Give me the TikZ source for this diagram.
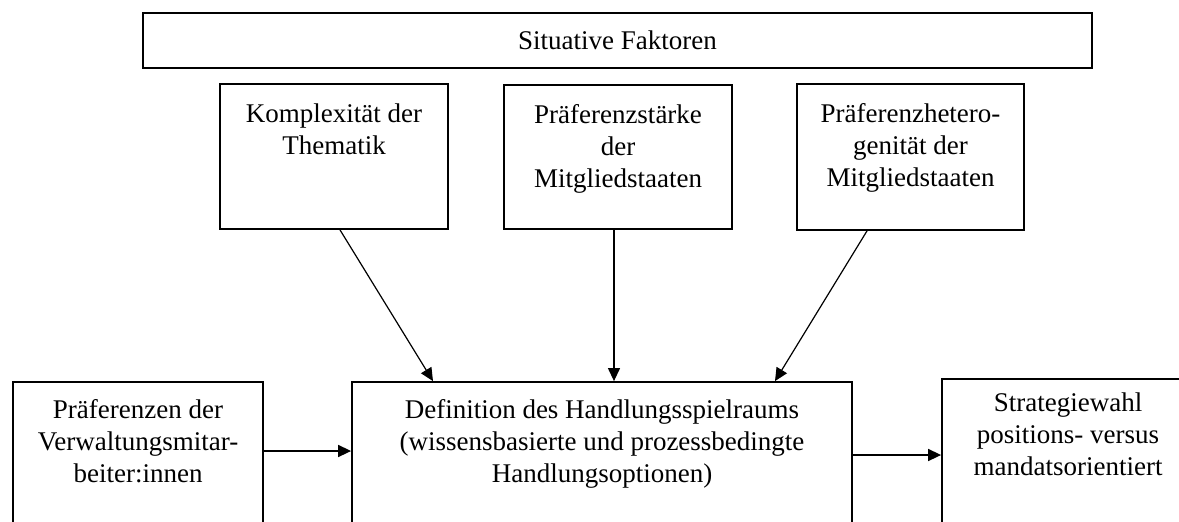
\documentclass[tikz,border=0pt]{standalone}
\usepackage{fontspec}
\setmainfont{Liberation Serif}
\usepackage{xcolor}
\usetikzlibrary{positioning,arrows.meta}

\begin{document}
\begin{tikzpicture}[x=0.5pt, y=-0.5pt,
    box/.style={draw, line width=0.9pt, rectangle, inner sep=0pt},
    txt/.style={inner sep=0pt, align=center, font=\fontsize{13.5}{16}\selectfont},
    arr/.style={-{Triangle[length=6.5pt, width=6pt]}, line width=0.6pt}]

    \useasboundingbox (0,0) rectangle (1179,521);
    \clip (0,0) rectangle (1179,521);

    % Define nodes
    \node (faktoren) [box, txt, minimum width=474.5pt, minimum height=27.5pt] at (617.5,40.5) {Situative Faktoren};

    \node (komplex) [box, minimum width=114pt, minimum height=72.5pt] at (334,156.5) {};
    \node (komplexT) [txt, below=10pt of komplex.north] {Komplexit\"at der\\Thematik};

    \node (staerke) [box, minimum width=114pt, minimum height=72pt] at (618,157) {};
    \node (staerkeT) [txt, below=10pt of staerke.north] {Pr\"aferenzst\"arke\\der\\Mitgliedstaaten};

    \node (hetero) [box, minimum width=113.5pt, minimum height=73pt] at (910.5,157) {};
    \node (heteroT) [txt, below=10pt of hetero.north] {Pr\"aferenzhetero-\\genit\"at der\\Mitgliedstaaten};

    \node (links) [box, minimum width=125pt, minimum height=89pt] at (138,471) {};
    \node (linksT) [txt, below=9pt of links.north] {Pr\"aferenzen der\\Verwaltungsmitar-\\beiter:innen};

    \node (mitte) [box, minimum width=250pt, minimum height=89pt] at (602,471) {};
    \node (mitteT) [txt, below=9pt of mitte.north] {Definition des Handlungsspielraums\\(wissensbasierte und prozessbedingte\\Handlungsoptionen)};

    \node (rechts) [box, minimum width=126pt, minimum height=90.5pt] at (1068,469.5) {};
    \node (rechtsT) [txt, below=7pt of rechts.north] {Strategiewahl\\positions- versus\\mandatsorientiert};

    % Define connections
    \draw[arr] ([xshift=3pt]komplex.south) -- ([xshift=-84.5pt]mitte.north);
    \draw[arr] ([xshift=-2pt]staerke.south) -- ([xshift=-2pt]staerke.south |- mitte.north);
    \draw[arr] ([xshift=-21.75pt]hetero.south) -- ([xshift=86.5pt]mitte.north);
    \draw[arr, line width=0.8pt] ([yshift=10pt]links.east) -- ([yshift=10pt]links.east -| mitte.west);
    \draw[arr, line width=0.8pt] ([yshift=8pt]mitte.east) -- ([yshift=8pt]mitte.east -| rechts.west);

\end{tikzpicture}
\end{document}
